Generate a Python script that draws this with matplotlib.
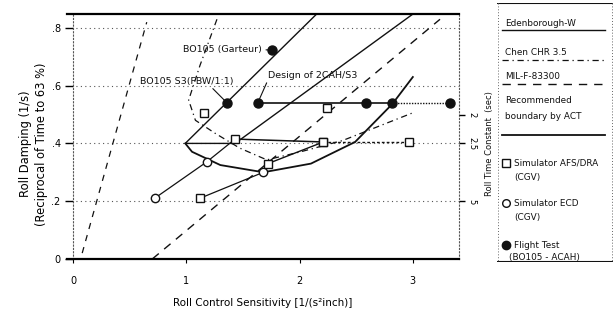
import matplotlib
matplotlib.use("Agg")
import matplotlib.pyplot as plt

# ── boundaries ─────────────────────────────────────────────
eden_x = [2.15, 0.99, 1.43, 3.00]          # Edenborough-W (flat-bottomed V)
eden_y = [0.848, 0.40, 0.40, 0.848]
mil_x = [0.70, 3.24]                       # MIL-F-83300
mil_y = [0.00, 0.83]
mil_steep_x = [0.08, 0.65]
mil_steep_y = [0.02, 0.82]
chen_x = [1.27, 1.12, 1.02, 1.08, 1.25, 1.47, 1.71, 2.00, 2.38, 3.00]
chen_y = [0.83, 0.67, 0.55, 0.48, 0.436, 0.384, 0.343, 0.37, 0.41, 0.506]
act_x = [0.99, 1.05, 1.30, 1.68, 2.10, 2.49, 2.82, 3.00]
act_y = [0.40, 0.371, 0.325, 0.30, 0.33, 0.405, 0.537, 0.63]

# ── simulator AFS/DRA (squares) ───────────────────────────
afs_row_x = [1.43, 2.21, 2.97]
afs_row_y = [0.415, 0.405, 0.405]
afs_pair_x = [1.72, 2.21]
afs_pair_y = [0.33, 0.405]
afs_single_x = [1.16, 2.24, 1.12]
afs_single_y = [0.506, 0.523, 0.21]

# ── simulator ECD (open circles) ──────────────────────────
ecd_x = [0.72, 1.18, 1.68]
ecd_y = [0.21, 0.336, 0.30]

# ── flight test (filled circles) ──────────────────────────
design_x = [1.63, 2.59, 2.82, 3.33]
design_y = [0.54, 0.54, 0.54, 0.54]
garteur = (1.76, 0.724)
s3_fbw = (1.36, 0.54)

y_ticks = [0, 0.2, 0.4, 0.6, 0.8]
y_labels = ["0", ".2", ".4", ".6", ".8"]
x_ticks = [0, 1, 2, 3]
t_ticks = [2, 2.5, 5]          # time constant, s

ink = "#111111"

fig = plt.figure(figsize=(6.16, 3.2), dpi=100)
ax = fig.add_axes([0.109, 0.191, 0.636, 0.765])
ax.set_xlim(-0.053, 3.407)
ax.set_ylim(0, 0.848)

# dotted grid
for yv in [0.2, 0.4, 0.6, 0.8]:
    ax.axhline(yv, color="#555555", ls=(0, (1, 3)), lw=0.8, zorder=0)

# boundary lines
ax.plot(eden_x, eden_y, color=ink, lw=1.0)
ax.plot(mil_x, mil_y, color=ink, lw=1.0, ls=(0, (6, 5)))
ax.plot(mil_steep_x, mil_steep_y, color=ink, lw=0.9, ls=(0, (5, 5)))
ax.plot(chen_x, chen_y, color=ink, lw=0.9, ls=(0, (5, 3, 1, 3)))
ax.plot(act_x, act_y, color=ink, lw=1.3)

# simulator data
ax.plot(afs_row_x[:2], afs_row_y[:2], color=ink, lw=1.1)
ax.plot(afs_row_x[1:], afs_row_y[1:], color=ink, lw=1.0, ls=(0, (2, 1.5)))
ax.plot(afs_pair_x, afs_pair_y, color=ink, lw=1.0)
ax.plot([afs_single_x[2], ecd_x[2]], [afs_single_y[2], ecd_y[2]], color=ink, lw=0.9)
ax.plot(ecd_x[:2] + [afs_row_x[0]], ecd_y[:2] + [afs_row_y[0]], color=ink, lw=0.9)

sq = dict(marker="s", ms=6, mfc="white", mec=ink, mew=1.0, ls="none", zorder=4)
ax.plot(afs_row_x, afs_row_y, **sq)
ax.plot(afs_pair_x, afs_pair_y, **sq)
ax.plot(afs_single_x, afs_single_y, **sq)
ax.plot(ecd_x, ecd_y, marker="o", ms=6, mfc="white", mec=ink, mew=1.0,
        ls="none", zorder=4)

# flight test
ax.plot(design_x[:3], design_y[:3], color=ink, lw=1.2)
ax.plot(design_x[2:], design_y[2:], color=ink, lw=1.0, ls=(0, (1, 1)))
fc = dict(marker="o", ms=6.5, mfc=ink, mec=ink, ls="none", zorder=5)
ax.plot(design_x, design_y, **fc)
ax.plot(*garteur, **fc)
ax.plot(*s3_fbw, **fc)

# labels for the flight points
afs = 6.8
ax.annotate("BO105 (Garteur)", xy=garteur, xytext=(0.97, garteur[1]),
            fontsize=afs, va="center", ha="left", color=ink,
            arrowprops=dict(arrowstyle="-", color=ink, lw=0.8,
                            shrinkA=1, shrinkB=3, relpos=(1.0, 0.5)))
ax.annotate("BO105 S3(FBW/1:1)", xy=s3_fbw, xytext=(0.59, 0.615),
            fontsize=afs, va="center", ha="left", color=ink,
            arrowprops=dict(arrowstyle="-", color=ink, lw=0.8,
                            shrinkA=0, shrinkB=3, relpos=(0.75, 0)))
ax.annotate("Design of 2CAH/S3", xy=(design_x[0], design_y[0]), xytext=(1.72, 0.635),
            fontsize=afs, va="center", ha="left", color=ink,
            arrowprops=dict(arrowstyle="-", color=ink, lw=0.8,
                            shrinkA=0, shrinkB=3, relpos=(0.0, 0)))

# axes frame: solid top/bottom, dotted verticals
ax.spines["top"].set_linewidth(1.6)
ax.spines["bottom"].set_linewidth(1.6)
ax.spines["left"].set_position(("data", 0))
for side in ["left", "right"]:
    ax.spines[side].set_linestyle((0, (1, 2)))
    ax.spines[side].set_color("#555555")
ax.set_yticks(y_ticks)
ax.set_yticklabels(y_labels, fontsize=7)
ax.set_xticks(x_ticks)
ax.set_xticklabels([str(v) for v in x_ticks], fontsize=7)
ax.tick_params(axis="y", length=6, width=1.0, direction="out", pad=3)
ax.tick_params(axis="x", length=3, width=0.8, direction="out", pad=9)

ax.set_xlabel("Roll Control Sensitivity [1/(s²inch)]", fontsize=7.5, labelpad=9)
ax.set_ylabel("Roll Damping (1/s)\n(Reciprocal of Time to 63 %)", fontsize=8.3,
              linespacing=1.3)
ax.yaxis.set_label_coords(-0.05, 0.47)

# time constant scale on the right
ax2 = ax.twinx()
ax2.set_ylim(ax.get_ylim())
ax2.set_yticks([1 / t for t in t_ticks])
ax2.set_yticklabels([str(t) for t in t_ticks], fontsize=6, rotation=270,
                    va="center")
ax2.tick_params(axis="y", length=4, width=1.0, direction="out", pad=2)
for side in ["top", "bottom", "left", "right"]:
    ax2.spines[side].set_visible(False)
fig.text(0.795, 0.55, "Roll Time Constant  (sec)", rotation=90, fontsize=6,
         ha="center", va="center", color=ink)

# legend panel
lg = fig.add_axes([0.807, 0.181, 0.188, 0.809])
lg.set_xlim(0, 116)
lg.set_ylim(259, 0)
lg.axis("off")
lg.plot([0, 116], [0, 0], color=ink, lw=1.5)
lg.plot([0, 116], [259, 259], color=ink, lw=1.5)
lg.plot([1, 1], [0, 259], color="#666666", lw=0.7, ls=(0, (1, 2)))
lg.plot([115, 115], [0, 259], color="#666666", lw=0.7, ls=(0, (1, 2)))

fs = 6.4
lg.text(8, 20, "Edenborough-W", fontsize=fs, va="center", color=ink)
lg.plot([5, 108], [27, 27], color=ink, lw=1.0)
lg.text(8, 49, "Chen CHR 3.5", fontsize=fs, va="center", color=ink)
lg.plot([5, 108], [57, 57], color=ink, lw=0.9, ls=(0, (5, 3, 1, 3)))
lg.text(8, 73, "MIL-F-83300", fontsize=fs, va="center", color=ink)
lg.plot([5, 108], [81, 81], color=ink, lw=1.0, ls=(0, (6, 5)))
lg.text(8, 97, "Recommended", fontsize=fs, va="center", color=ink)
lg.text(8, 113, "boundary by ACT", fontsize=fs, va="center", color=ink)
lg.plot([5, 108], [132, 132], color=ink, lw=1.3)

lg.plot(9, 160, marker="s", ms=5.5, mfc="white", mec=ink, mew=1.0)
lg.text(17, 160, "Simulator AFS/DRA", fontsize=fs, va="center", color=ink)
lg.text(17, 174, "(CGV)", fontsize=fs, va="center", color=ink)
lg.plot(9, 200, marker="o", ms=5.5, mfc="white", mec=ink, mew=1.0)
lg.text(17, 200, "Simulator ECD", fontsize=fs, va="center", color=ink)
lg.text(17, 214, "(CGV)", fontsize=fs, va="center", color=ink)
lg.plot(9, 242, marker="o", ms=6, mfc=ink, mec=ink)
lg.text(17, 242, "Flight Test", fontsize=fs, va="center", color=ink)
lg.text(12, 254, "(BO105 - ACAH)", fontsize=fs, va="center", color=ink)

fig.savefig("out.png", dpi=100)
